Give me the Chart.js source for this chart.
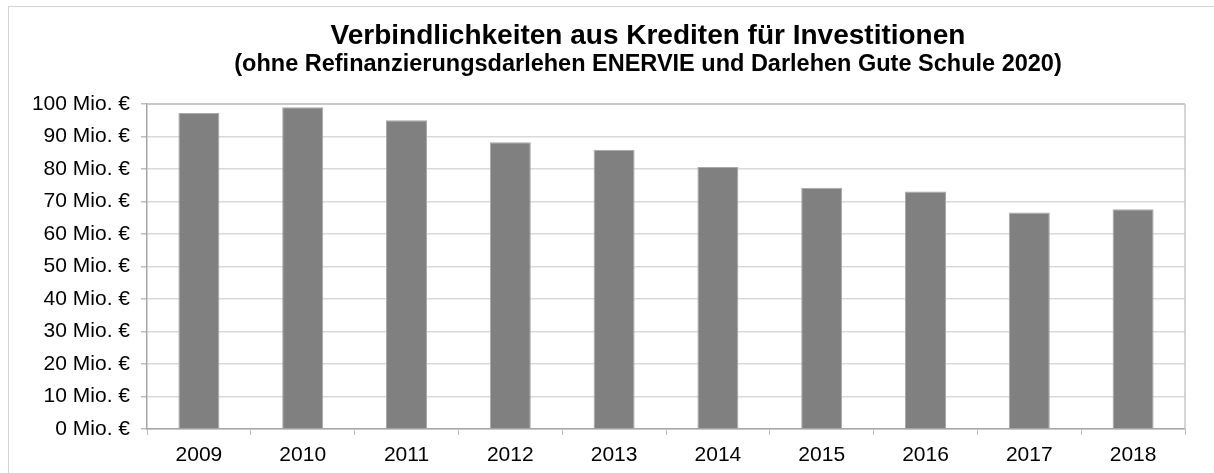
<!DOCTYPE html>
<html>
<head>
<meta charset="utf-8">
<script src="https://cdn.jsdelivr.net/npm/chart.js@4"></script>
<style>
  body { margin: 0; background: #fff; overflow: hidden; width: 1214px; height: 473px; }
  #rahmen { position: absolute; left: 8px; top: 6px; width: 1400px; height: 700px; border: 1px solid #d4d4d4; }
  /* das Original ist rechts abgeschnitten: Diagramm breiter als das Fenster */
  #box { position: absolute; left: 0; top: 0; width: 1296px; height: 473px; }
</style>
</head>
<body>
<div id="rahmen"></div>
<div id="box"><canvas id="miGrafico"></canvas></div>
<script>
// Daten
const jahre = ['2009', '2010', '2011', '2012', '2013', '2014', '2015', '2016', '2017', '2018'];
const verbindlichkeiten = [97.2, 99.0, 95.0, 88.2, 85.9, 80.6, 74.2, 73.1, 66.6, 67.6];
const einheit = ' Mio. €';
const titel = 'Verbindlichkeiten aus Krediten für Investitionen';
const untertitel = '(ohne Refinanzierungsdarlehen ENERVIE und Darlehen Gute Schule 2020)';

const schrift = '"Liberation Sans", Arial, sans-serif';

// Rahmen oben/rechts um die Zeichenfläche
const plotRahmen = {
  id: 'plotRahmen',
  afterDraw(chart) {
    const a = chart.chartArea;
    const c = chart.ctx;
    c.save();
    c.strokeStyle = '#c8c8c8';
    c.lineWidth = 2;
    c.beginPath();
    c.moveTo(a.left, a.top);
    c.lineTo(a.right, a.top);
    c.stroke();
    c.lineWidth = 1.5;
    c.beginPath();
    c.moveTo(a.right, a.top);
    c.lineTo(a.right, a.bottom);
    c.stroke();
    c.restore();
  }
};

const ctx = document.getElementById('miGrafico').getContext('2d');
const miGrafico = new Chart(ctx, {
  type: 'bar',
  data: {
    labels: jahre,
    datasets: [{
      data: verbindlichkeiten,
      backgroundColor: '#808080',
      borderColor: '#a8a8a8',
      borderWidth: 1,
      barPercentage: 0.395,
      categoryPercentage: 1
    }]
  },
  options: {
    responsive: true,
    maintainAspectRatio: false,
    animation: false,
    layout: { padding: { left: 0, right: 0, top: 6, bottom: 0 } },
    plugins: {
      legend: { display: false },
      tooltip: { enabled: false },
      title: {
        display: true,
        text: titel,
        color: '#000',
        font: { family: schrift, size: 28, weight: 'bold', lineHeight: 1.0 },
        padding: { top: 16, bottom: 0 }
      },
      subtitle: {
        display: true,
        text: untertitel,
        color: '#000',
        font: { family: schrift, size: 23.5, weight: 'bold', lineHeight: 1.0 },
        padding: { top: 3, bottom: 27.5 }
      }
    },
    scales: {
      x: {
        afterFit(scale) { scale.height = 44; },
        grid: {
          drawOnChartArea: false,
          drawTicks: true,
          tickLength: 6,
          tickColor: '#bdbdbd',
          offset: true
        },
        border: { color: '#a6a6a6', width: 1.5 },
        ticks: {
          color: '#000',
          padding: 8,
          font: { family: schrift, size: 21 },
          maxRotation: 0
        }
      },
      y: {
        min: 0,
        max: 100,
        afterFit(scale) { scale.width = 147; },
        grid: {
          color: '#d9d9d9',
          lineWidth: 1.5,
          tickLength: 6,
          tickColor: '#bdbdbd'
        },
        border: { color: '#a6a6a6', width: 1.5 },
        ticks: {
          stepSize: 10,
          color: '#000',
          padding: 11,
          font: { family: schrift, size: 21 },
          callback: (v) => v + einheit
        }
      },
      // leerer Platz rechts (abgeschnittener Teil des Originals)
      rechts: {
        position: 'right',
        afterFit(scale) { scale.width = 111; },
        grid: { display: false },
        border: { display: false },
        ticks: { display: false }
      }
    }
  },
  plugins: [plotRahmen]
});
</script>
</body>
</html>
